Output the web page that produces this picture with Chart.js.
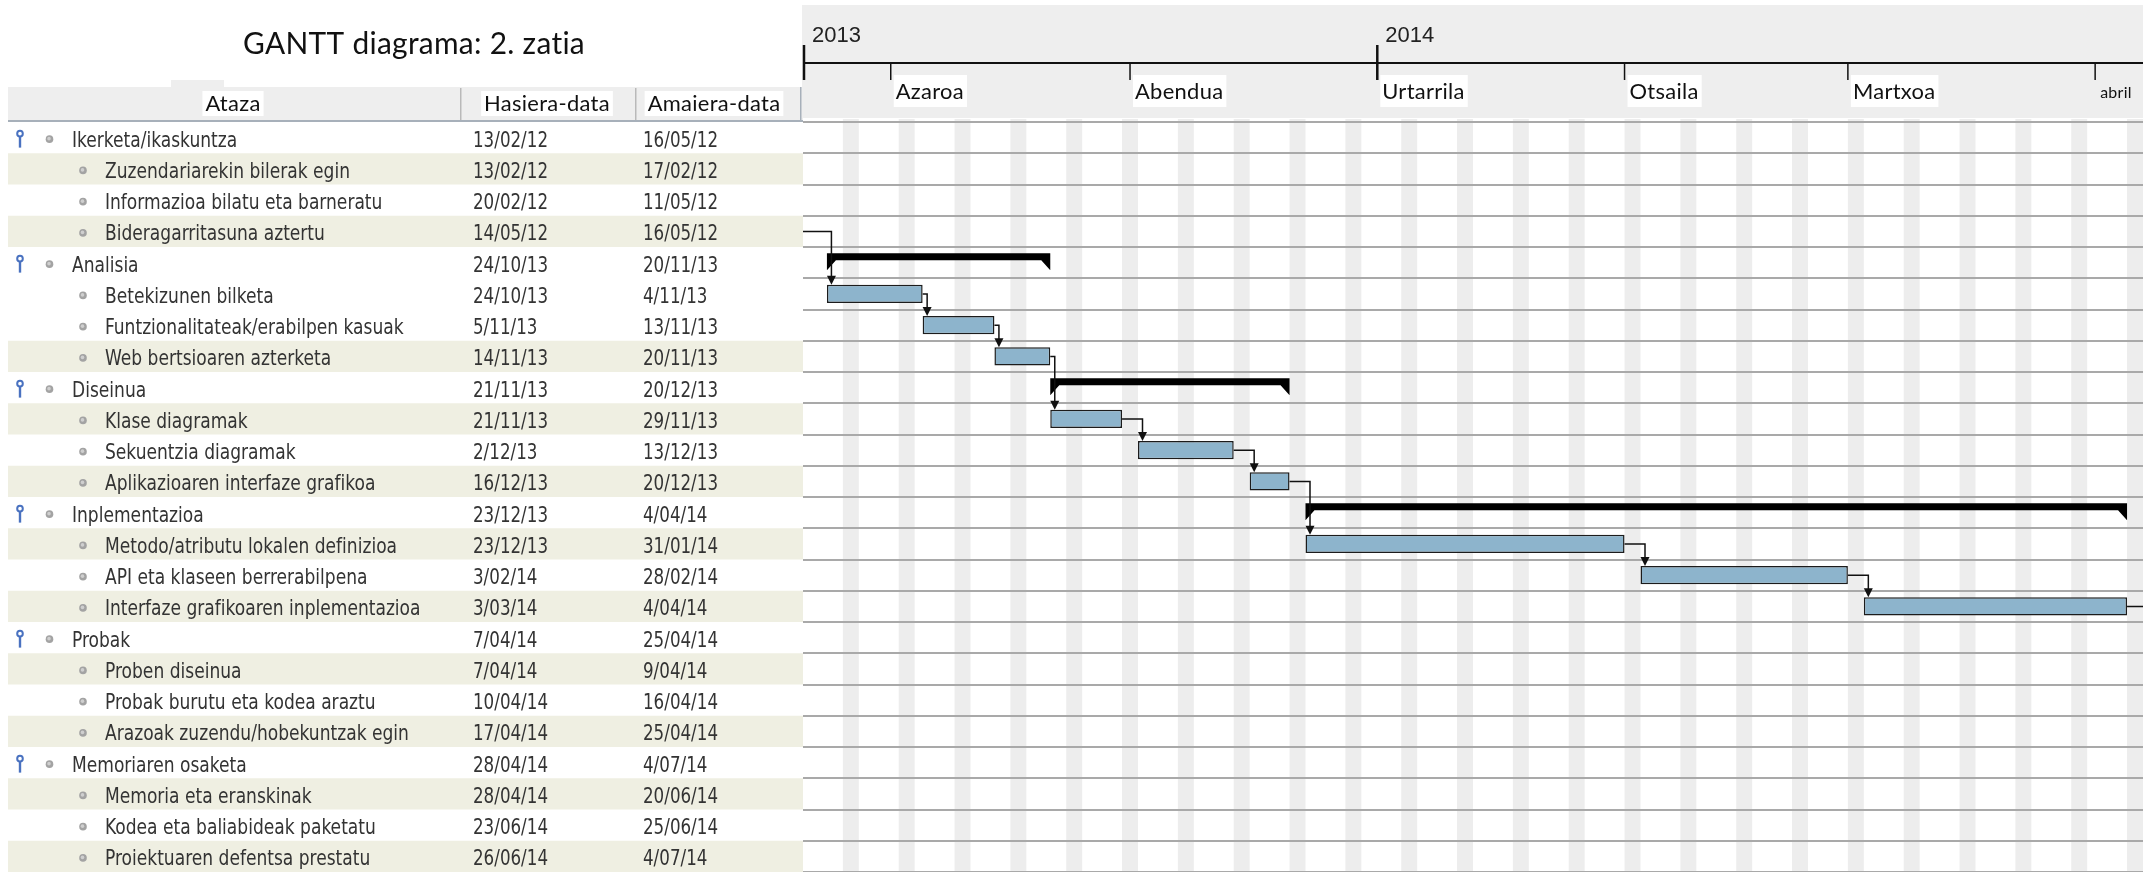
<!DOCTYPE html>
<html>
<head>
<meta charset="utf-8">
<title>GANTT diagrama: 2. zatia</title>
<script src="https://cdn.jsdelivr.net/npm/chart.js@4/dist/chart.umd.min.js"></script>
<style>
  html, body { margin: 0; padding: 0; background: #ffffff; }
  #chart { display: block; }
</style>
</head>
<body>
<canvas id="chart" width="2143" height="872"></canvas>
<script>
// ---- table data (one entry per row, top to bottom) ----
const taskNames = [
  'Ikerketa/ikaskuntza', 'Zuzendariarekin bilerak egin', 'Informazioa bilatu eta barneratu', 'Bideragarritasuna aztertu',
  'Analisia', 'Betekizunen bilketa', 'Funtzionalitateak/erabilpen kasuak', 'Web bertsioaren azterketa',
  'Diseinua', 'Klase diagramak', 'Sekuentzia diagramak', 'Aplikazioaren interfaze grafikoa',
  'Inplementazioa', 'Metodo/atributu lokalen definizioa', 'API eta klaseen berrerabilpena', 'Interfaze grafikoaren inplementazioa',
  'Probak', 'Proben diseinua', 'Probak burutu eta kodea araztu', 'Arazoak zuzendu/hobekuntzak egin',
  'Memoriaren osaketa', 'Memoria eta eranskinak', 'Kodea eta baliabideak paketatu', 'Proiektuaren defentsa prestatu'
];
const startDates = [
  '13/02/12', '13/02/12', '20/02/12', '14/05/12',
  '24/10/13', '24/10/13', '5/11/13', '14/11/13',
  '21/11/13', '21/11/13', '2/12/13', '16/12/13',
  '23/12/13', '23/12/13', '3/02/14', '3/03/14',
  '7/04/14', '7/04/14', '10/04/14', '17/04/14',
  '28/04/14', '28/04/14', '23/06/14', '26/06/14'
];
const endDates = [
  '16/05/12', '17/02/12', '11/05/12', '16/05/12',
  '20/11/13', '4/11/13', '13/11/13', '20/11/13',
  '20/12/13', '29/11/13', '13/12/13', '20/12/13',
  '4/04/14', '31/01/14', '28/02/14', '4/04/14',
  '25/04/14', '9/04/14', '16/04/14', '25/04/14',
  '4/07/14', '20/06/14', '25/06/14', '4/07/14'
];
const summaryRows = [0, 4, 8, 12, 16, 20];
const bandRows = [1, 3, 7, 9, 11, 13, 15, 17, 19, 21, 23];
// predecessor -> successor (row indexes)
const links = [[1, 2], [2, 3], [3, 5], [5, 6], [6, 7], [7, 9], [9, 10], [10, 11],
  [11, 13], [13, 14], [14, 15], [15, 17], [17, 18], [18, 19], [19, 21], [21, 22], [22, 23]];

// ---- timeline ----
const chartTitle = 'GANTT diagrama: 2. zatia';
const columnTitles = ['Ataza', 'Hasiera-data', 'Amaiera-data'];
const viewStart = '21/10/13';
const viewEnd = '7/04/14';
const yearLabels = ['2013', '2014'];
const yearStarts = ['1/01/13', '1/01/14'];
const monthLabels = ['Azaroa', 'Abendua', 'Urtarrila', 'Otsaila', 'Martxoa', 'abril'];
const monthStarts = ['1/11/13', '1/12/13', '1/01/14', '1/02/14', '1/03/14', '1/04/14'];

const DAY = 86400000;
function dayNum(s) {
  const p = s.split('/').map(Number);
  return Date.UTC(2000 + p[2], p[1] - 1, p[0]) / DAY;
}

// bars run from the start of the first day to the end of the last day
const taskBars = taskNames.map((n, i) => summaryRows.includes(i) ? null : [dayNum(startDates[i]), dayNum(endDates[i]) + 1]);
const summaryBars = taskNames.map((n, i) => summaryRows.includes(i) ? [dayNum(startDates[i]), dayNum(endDates[i]) + 1] : null);

const FONT_NARROW = '"Liberation Sans Narrow", "DejaVu Sans Condensed", "Liberation Sans", sans-serif';
const FONT_SOFT = 'Lato, "Open Sans", sans-serif';

function squeezedText(c, s, x, y, sx, align) {
  c.save();
  c.translate(x, y);
  c.scale(sx, 1);
  c.textAlign = align || 'left';
  c.fillText(s, 0, 0);
  c.restore();
}

const ganttPlugin = {
  id: 'gantt',
  beforeDraw(chart) {
    const c = chart.ctx, area = chart.chartArea;
    const xs = chart.scales.x, ys = chart.scales.y;
    const rowH = ys.getPixelForValue(1) - ys.getPixelForValue(0);
    c.save();
    c.textBaseline = 'alphabetic';
    // no ligatures (Lato joins "ti")
    c.textRendering = 'optimizeSpeed';
    c.letterSpacing = '0.3px';

    // title
    c.font = '30px ' + FONT_SOFT;
    const soft = 342 / c.measureText(chartTitle).width;
    c.fillStyle = '#111111';
    squeezedText(c, chartTitle, 414, 54, soft, 'center');

    // table header
    c.fillStyle = '#eeeeee';
    c.fillRect(171, 80, 53, 8);
    c.fillRect(8, 87, area.left - 8, 34);
    c.font = '22px ' + FONT_SOFT;
    const headCenters = [233, 547, 714];
    columnTitles.forEach((t, k) => {
      const w = c.measureText(t).width * soft;
      c.fillStyle = '#ffffff';
      c.fillRect(headCenters[k] - w / 2 - 3, 91, w + 6, 25);
      c.fillStyle = '#111111';
      squeezedText(c, t, headCenters[k], 111, soft, 'center');
    });
    c.fillStyle = '#b9b9b9';
    c.fillRect(460, 88, 1.5, 32);
    c.fillRect(635, 88, 1.5, 32);
    c.fillStyle = '#a7b0ba';
    c.fillRect(8, 120, area.left - 8, 2);
    c.fillRect(area.left - 3, 87, 1.5, 34);

    // row bands
    c.fillStyle = '#efefe2';
    bandRows.forEach(i => {
      const cy = ys.getPixelForValue(i);
      c.fillRect(8, cy - rowH / 2, area.left - 8, rowH);
    });

    // row texts
    c.letterSpacing = '0px';
    c.font = '21px ' + FONT_NARROW;
    const nameSx = 245 / c.measureText(taskNames[1]).width;
    const dateSx = 75 / c.measureText(startDates[0]).width;
    taskNames.forEach((name, i) => {
      const cy = ys.getPixelForValue(i);
      const parent = summaryRows.includes(i);
      const bx = parent ? 49.5 : 83;
      if (parent) {
        c.strokeStyle = '#4a72c0';
        c.lineWidth = 2;
        c.beginPath();
        c.arc(20, cy - 4, 2.8, 0, Math.PI * 2);
        c.stroke();
        c.lineWidth = 2.4;
        c.beginPath();
        c.moveTo(20, cy - 1);
        c.lineTo(20, cy + 10);
        c.stroke();
      }
      c.fillStyle = '#a3a3a3';
      c.beginPath();
      c.arc(bx, cy + 1.5, 3.8, 0, Math.PI * 2);
      c.fill();
      c.fillStyle = '#cfcfcf';
      c.beginPath();
      c.arc(bx - 0.5, cy + 1, 1.8, 0, Math.PI * 2);
      c.fill();
      c.fillStyle = '#333333';
      squeezedText(c, name, parent ? 72 : 105, cy + 9, nameSx);
      squeezedText(c, startDates[i], 473, cy + 9, dateSx);
      squeezedText(c, endDates[i], 643, cy + 9, dateSx);
    });

    // gantt header
    c.fillStyle = '#eeeeee';
    c.fillRect(area.left - 1, 5, chart.width - area.left + 1, 113);

    // weekend stripes
    c.fillStyle = '#ededed';
    for (let d = Math.floor(xs.min) - 2; d <= xs.max; d++) {
      if (new Date(d * DAY).getUTCDay() !== 6) continue;
      const x0 = Math.max(xs.getPixelForValue(d), area.left);
      const x1 = Math.min(xs.getPixelForValue(d + 2), area.right);
      if (x1 > x0) c.fillRect(x0, 119, x1 - x0, area.bottom - 119);
    }

    // timeline
    c.strokeStyle = '#111111';
    c.lineWidth = 2;
    c.beginPath();
    c.moveTo(area.left, 63);
    c.lineTo(area.right, 63);
    c.stroke();

    c.font = '22px "Liberation Sans", Arial, sans-serif';
    yearLabels.forEach((lab, k) => {
      const x = Math.max(xs.getPixelForValue(dayNum(yearStarts[k])), area.left + 1);
      if (x > area.right) return;
      c.lineWidth = 2.5;
      c.beginPath();
      c.moveTo(x, 45);
      c.lineTo(x, 80);
      c.stroke();
      c.fillStyle = '#222222';
      c.fillText(lab, x + 8, 42);
    });

    c.letterSpacing = '0.3px';
    monthLabels.forEach((lab, k) => {
      const x = xs.getPixelForValue(dayNum(monthStarts[k]));
      if (x < area.left || x > area.right) return;
      c.strokeStyle = '#111111';
      c.lineWidth = 1.5;
      c.beginPath();
      c.moveTo(x, 63);
      c.lineTo(x, 80);
      c.stroke();
      const small = area.right - x < 60;
      c.font = (small ? '16px ' : '22px ') + FONT_SOFT;
      const w = c.measureText(lab).width * soft;
      if (!small) {
        c.fillStyle = '#ffffff';
        c.fillRect(x + 3, 75, w + 5, 32);
      }
      c.fillStyle = '#111111';
      squeezedText(c, lab, x + 5, small ? 98 : 99, soft);
    });
    c.restore();
  },
  afterDatasetsDraw(chart) {
    const c = chart.ctx, area = chart.chartArea;
    const tasks = chart.getDatasetMeta(0).data;
    const sums = chart.getDatasetMeta(1).data;
    const rowEl = i => (summaryRows.includes(i) ? sums : tasks)[i].getProps(['x', 'y', 'base', 'height'], true);
    c.save();
    c.beginPath();
    c.rect(area.left, area.top - 12, area.right - area.left, area.bottom - area.top + 12);
    c.clip();

    // summary brackets
    c.fillStyle = '#000000';
    summaryRows.forEach(i => {
      const el = rowEl(i);
      const l = Math.min(el.x, el.base), r = Math.max(el.x, el.base);
      const top = el.y - 9.5, bot = el.y - 2.5, tip = el.y + 7.5;
      c.beginPath();
      c.moveTo(l, top);
      c.lineTo(r, top);
      c.lineTo(r, tip);
      c.lineTo(r - 9, bot);
      c.lineTo(l + 9, bot);
      c.lineTo(l, tip);
      c.closePath();
      c.fill();
    });

    // dependency links
    c.strokeStyle = '#111111';
    c.fillStyle = '#111111';
    c.lineWidth = 1.5;
    links.forEach(([from, to]) => {
      const a = rowEl(from), b = rowEl(to);
      const ax = Math.min(b.x, b.base) + 4.5;
      const top = b.y - b.height / 2;
      c.beginPath();
      c.moveTo(Math.max(a.x, a.base), a.y);
      c.lineTo(ax, a.y);
      c.lineTo(ax, top - 8);
      c.stroke();
      c.beginPath();
      c.moveTo(ax - 4.5, top - 9);
      c.lineTo(ax + 4.5, top - 9);
      c.lineTo(ax, top);
      c.closePath();
      c.fill();
    });
    c.restore();
  }
};

new Chart(document.getElementById('chart'), {
  type: 'bar',
  data: {
    labels: taskNames,
    datasets: [
      {
        label: 'Ataza',
        data: taskBars,
        backgroundColor: '#8db4cc',
        borderColor: '#1c1c1c',
        borderWidth: 1.5,
        borderSkipped: false,
        barPercentage: 0.58,
        categoryPercentage: 1,
        grouped: false
      },
      {
        label: 'Laburpena',
        data: summaryBars,
        backgroundColor: 'rgba(0,0,0,0)',
        borderWidth: 0,
        barPercentage: 0.6,
        categoryPercentage: 1,
        grouped: false
      }
    ]
  },
  options: {
    indexAxis: 'y',
    responsive: false,
    animation: false,
    events: [],
    layout: { padding: { left: 803, top: 122, right: 0, bottom: 0 } },
    plugins: { legend: { display: false }, tooltip: { enabled: false } },
    scales: {
      x: { type: 'linear', min: dayNum(viewStart), max: dayNum(viewEnd), display: false },
      y: {
        grid: { color: '#a9a9a9', lineWidth: 2, drawTicks: false, offset: true },
        border: { display: false },
        ticks: { display: false },
        afterFit(scale) { scale.width = 0; }
      }
    }
  },
  plugins: [ganttPlugin]
});
</script>
</body>
</html>
